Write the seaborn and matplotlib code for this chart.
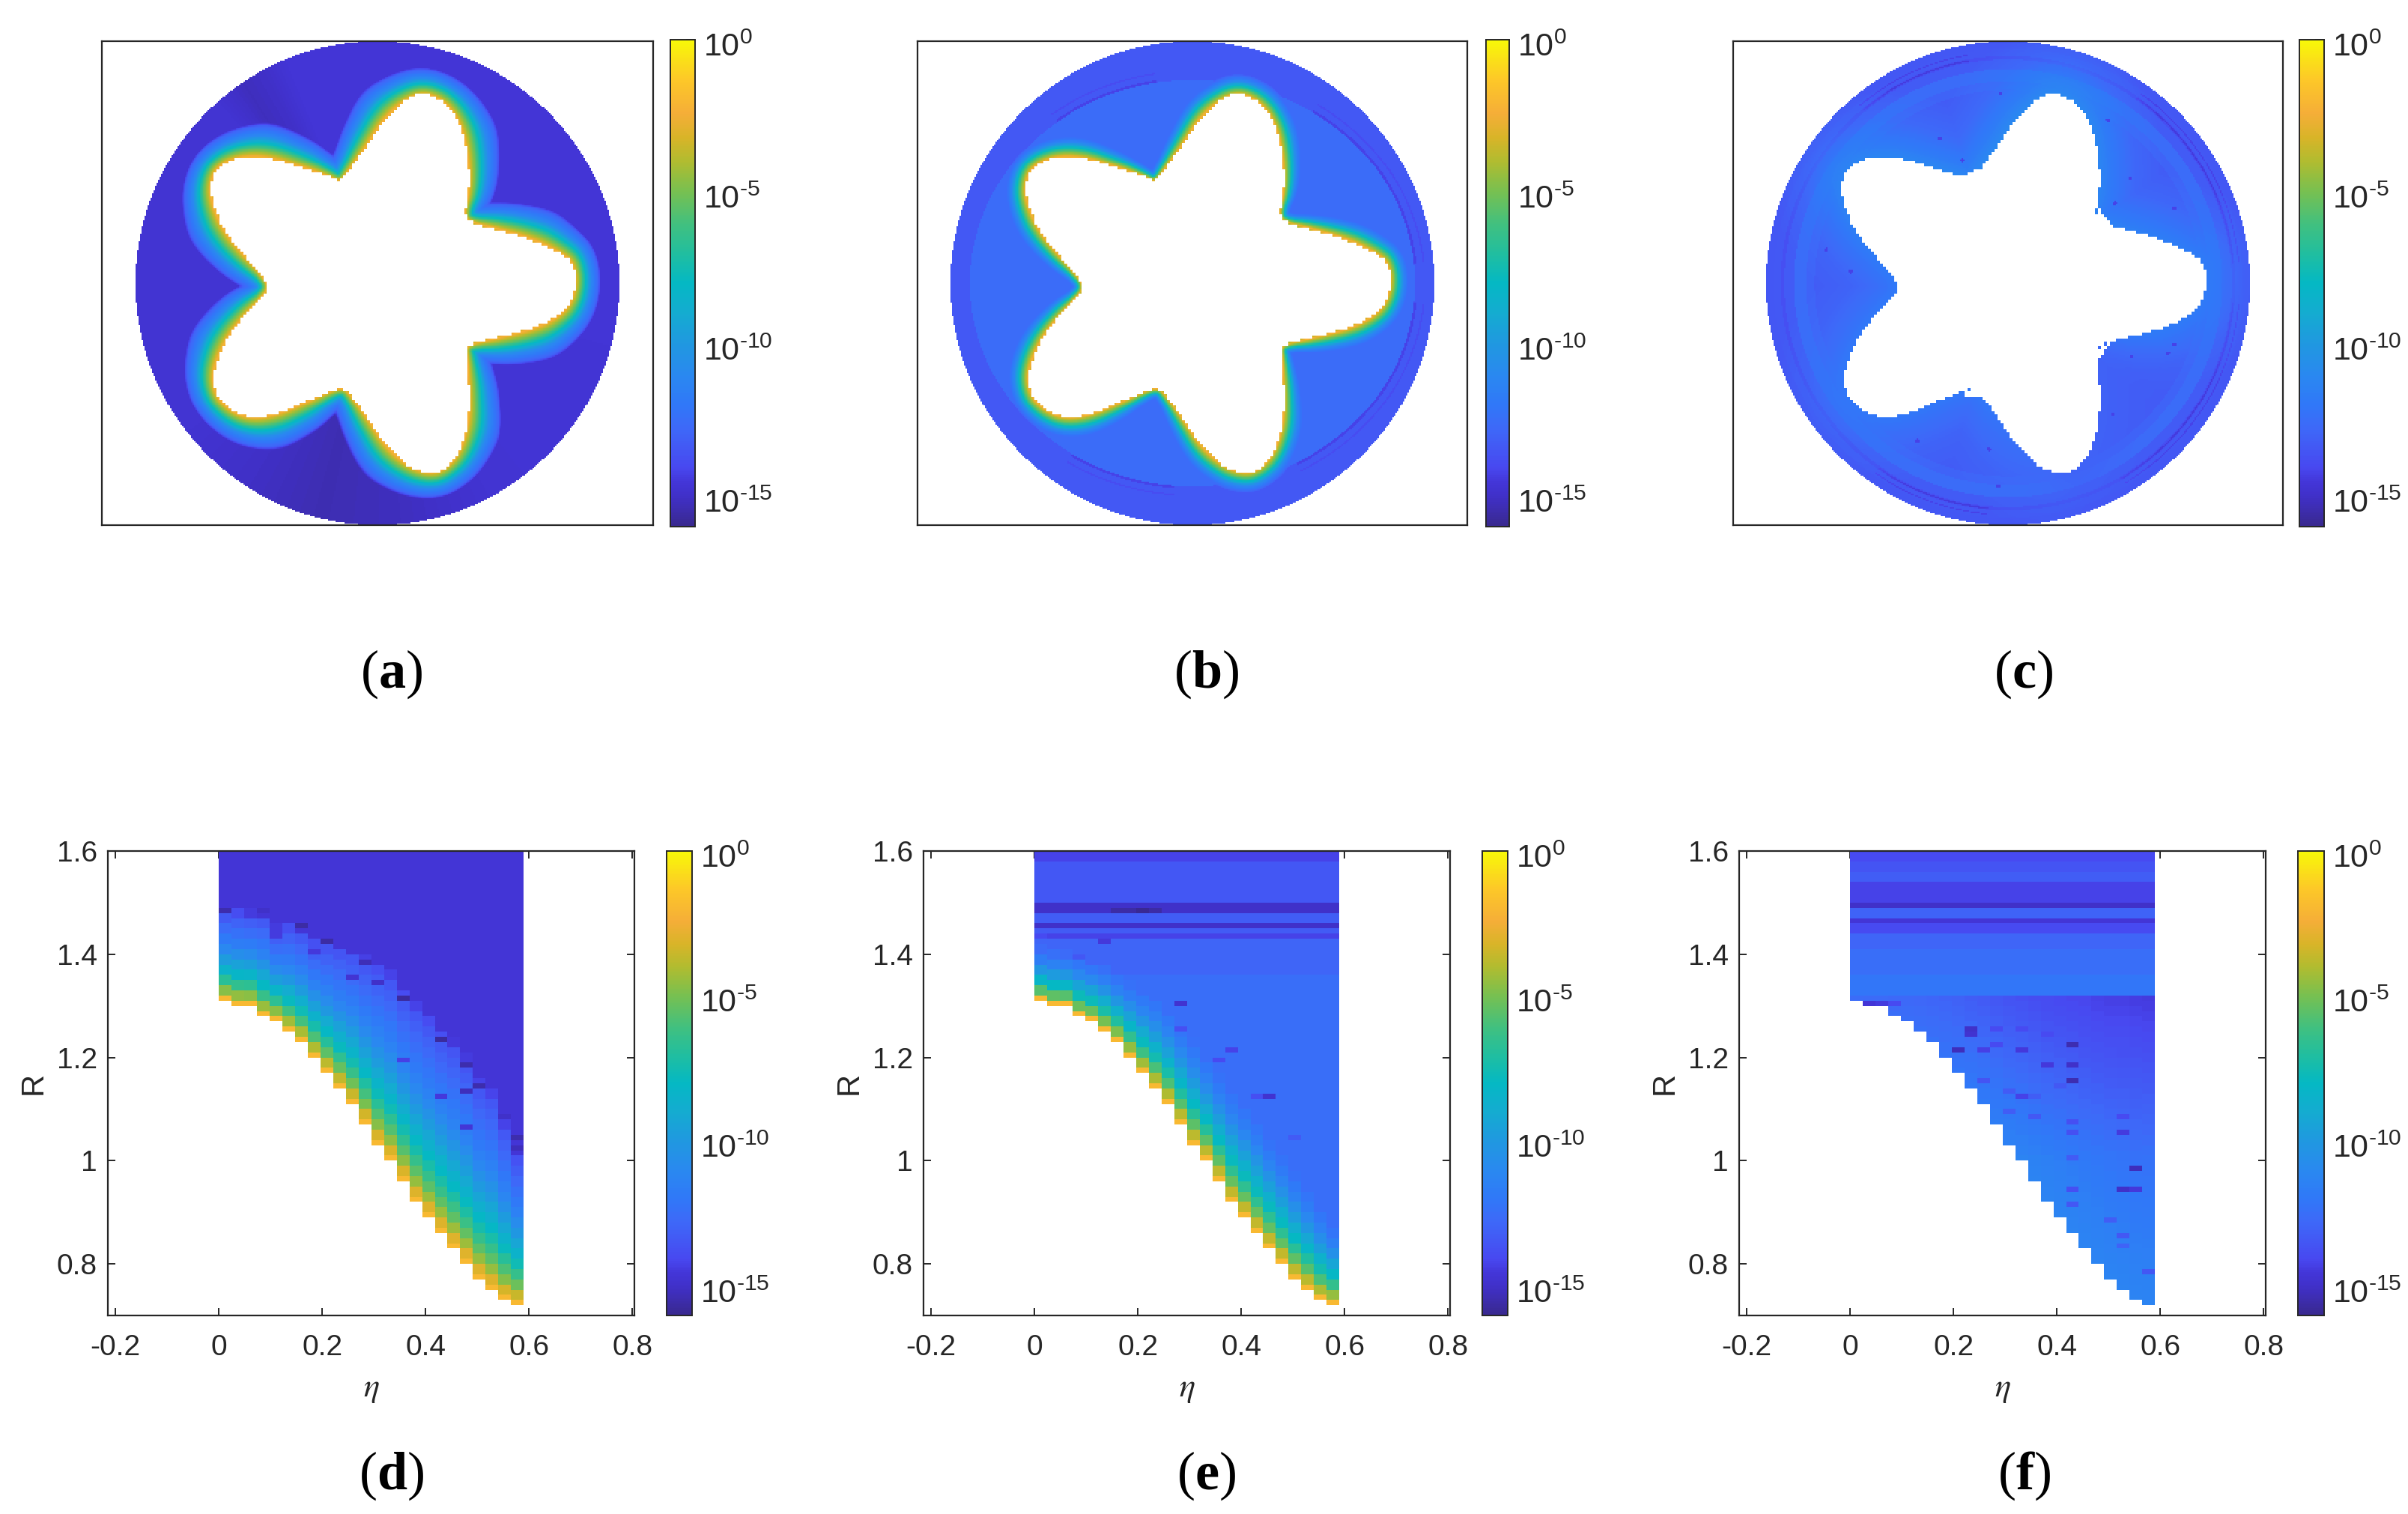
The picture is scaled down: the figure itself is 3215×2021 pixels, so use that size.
import numpy as np
import matplotlib
matplotlib.use("Agg")
import matplotlib.pyplot as plt
from matplotlib.colors import LinearSegmentedColormap
from matplotlib.path import Path
from matplotlib.ticker import FixedLocator
from matplotlib.transforms import ScaledTranslation
import seaborn as sns

# ---- colour scale (fraction of the log10 range, colour)
cmap_pos = [0, .06, .09, .12, .2, .25, .31, .375, .44, .5, .56, .62, .69, .75, .8, .85, .92, 1]
cmap_col = ["#39298f", "#4030c8", "#4336d8", "#4848f0", "#3e68f8", "#3078f8", "#2a88f0", "#2098e0",
            "#14acd0", "#04b8c4", "#20bea0", "#40c080", "#78c050", "#b0bc30", "#d8b428", "#f5ae38",
            "#fdc828", "#f8f808"]
parula = LinearSegmentedColormap.from_list("parula_like", list(zip(cmap_pos, cmap_col)))
LOG_MIN, LOG_MAX = -16, 0
cbar_major = [-15, -10, -5, 0]
cbar_labels = [r"$\mathregular{10^{\text{-15}}}$", r"$\mathregular{10^{\text{-10}}}$",
               r"$\mathregular{10^{\text{-5}}}$", r"$\mathregular{10^{0}}$"]
cbar_minor = list(range(-16, 1))

panel_labels_top = ["a", "b", "c"]
panel_labels_bot = ["d", "e", "f"]
eta_ticks = [-0.2, 0, 0.2, 0.4, 0.6, 0.8]
eta_ticklabels = ["-0.2", "0", "0.2", "0.4", "0.6", "0.8"]
R_ticks = [0.8, 1, 1.2, 1.4, 1.6]
R_ticklabels = ["0.8", "1", "1.2", "1.4", "1.6"]

# ---- star outline, unit disc coordinates
star_x = [.822, .808, .769, .650, .492, .370, .358, .377, .374, .344, .285, .206, .136, .038, -.042, -.121, -.154,
          -.200, -.318, -.457, -.575, -.664, -.694, -.684, -.634, -.555, -.466, -.451, -.466, -.536, -.615, -.664,
          -.684, -.664, -.595, -.516, -.417, -.318, -.219, -.144, -.111, -.042, .038, .136, .219, .275, .334, .374,
          .377, .370, .364, .393, .492, .630, .729, .798]
star_y = [0, .083, .117, .179, .224, .254, .296, .378, .516, .653, .743, .784, .770, .695, .571, .461, .417,
          .440, .481, .523, .523, .481, .406, .323, .213, .117, .021, -.014, -.048, -.117, -.213, -.309,
          -.392, -.475, -.536, -.560, -.543, -.502, -.454, -.429, -.461, -.557, -.681, -.763, -.788, -.770, -.708, -.585,
          -.447, -.309, -.268, -.248, -.227, -.193, -.151, -.089]
# blunted valley tips of panel (c): one triangle per valley
valley_x = [[-.154, -.112, -.205], [-.144, -.100, -.205], [.370, .360, .425], [.364, .360, .425]]
valley_y = [[.417, .475, .437], [-.429, -.470, -.460], [.254, .320, .240], [-.268, -.330, -.240]]

# boundary-layer width against radius of the nearest outline point
layer_r = [.45, .48, .55, .70, .78, .82]
layer_w_a = [.035, .07, .11, .135, .11, .095]
layer_w_b = [.025, .045, .07, .09, .085, .08]
# log10 error through the boundary layer
layer_t = [0, .06, .15, .27, .45, .68, .90, 1.0, 1.15]
layer_v = [-2, -3, -4.2, -5.5, -8, -11, -12.4, -13, -16]

# panel (a) background against polar angle
bg_angle_a = [0, 112, 118, 124, 132, 215, 240, 256, 275, 300, 360]
bg_value_a = [-14.6, -14.6, -15.0, -15.2, -14.7, -14.7, -15.1, -15.4, -15.2, -14.7, -14.6]

# panel (b) background: inner ellipse and outer ring
b_inner = -12.6
b_outer = -13.4
b_ellipse_x, b_ellipse_y = .92, .84
dark_arcs_lo = [100, 5, 235, 300]
dark_arcs_hi = [130, 55, 265, 355]

# panel (c) background by radius (ring edges, values)
c_ring_edges = [.80, .835, .885, .925, .94, .97]
c_ring_value = [-13.3, -13.0, -12.6, -13.3, -13.8, -13.4, -13.5]
# panel (c): value right at the outline against polar angle
c_near_angle = [0, 25, 70, 100, 150, 170, 200, 240, 260, 290, 320, 340, 360]
c_near_value = [-11.8, -11.5, -11.0, -11.0, -11.3, -11.8, -12.0, -12.0, -12.0, -13.0, -13.0, -11.8, -11.8]
c_near_d = [0, .05, .15, .28]
c_near_k = [1, .7, .25, 0]
c_speck_x = [-.03, -.281, -.189, .412, .505, .689, .44, .689, .662, .514, .431, -.373, -.078, -.752, -.651, -.041]
c_speck_y = [.784, .598, .509, .674, .433, .309, .33, -.254, -.289, -.303, -.543, -.653, -.688, .138, .048, -.839]

# ---- lower panels: 24 eta columns
eta_max = 0.59
R_floor = [1.312, 1.302, 1.302, 1.281, 1.272, 1.251, 1.232, 1.201, 1.171, 1.141, 1.112, 1.071,
           1.030, 1.001, .961, .921, .890, .861, .832, .801, .771, .750, .730, .721]
R_top_d = [1.48, 1.48, 1.475, 1.47, 1.445, 1.45, 1.44, 1.42, 1.415, 1.405, 1.397, 1.38,
           1.367, 1.35, 1.316, 1.29, 1.264, 1.238, 1.215, 1.186, 1.14, 1.12, 1.06, 1.0]
R_top_e = [1.430, 1.427, 1.421, 1.416, 1.408, 1.401, 1.390, 1.379, 1.367, 1.356, 1.334, 1.308,
           1.279, 1.247, 1.216, 1.186, 1.156, 1.127, 1.093, 1.060, 1.023, .986, .945, .904]
prof_t = [0, .05, .13, .30, .45, .62, .85, 1.0, 1.12]
prof_v = [-2, -3, -5, -7.8, -9.5, -11.3, -12.7, -13.6, -16]
bg_d = -14.6

# spots (column, R, log10) in panel (d)
spot_d_c = [0, 3, 6, 4, 8, 7, 11, 10, 14, 12, 17, 14, 19, 20, 19, 19, 23, 17, 22, 23]
spot_d_R = [1.486, 1.483, 1.456, 1.436, 1.426, 1.405, 1.386, 1.356, 1.316, 1.35, 1.236, 1.196, 1.186, 1.147, 1.138,
            1.066, 1.05, 1.127, 1.09, 1.03]
spot_d_v = [-15.5, -15, -15.6, -14.4, -15.6, -14.5, -15.3, -14.7, -15.7, -15, -15.7, -14.3, -15.5, -15.5, -15.2,
            -14.6, -15.5, -14.5, -15, -15.2]
# horizontal stripes in panels (e) and (f), from the top downwards
stripe_e_R = [1.582, 1.50, 1.48, 1.461, 1.451, 1.441, 1.43, 1.356]
stripe_e_v = [-14.2, -13.5, -15, -13.2, -15, -13.3, -14.2, -12.9, -12.5]
spot_e_c = [11, 11, 15, 14, 18, 17, 5, 3, 20, 6, 7, 8, 9]
spot_e_R = [1.308, 1.256, 1.216, 1.197, 1.127, 1.127, 1.427, 1.397, 1.049, 1.49, 1.49, 1.49, 1.49]
spot_e_v = [-14.8, -13.8, -14.2, -14, -14.8, -13.8, -14.5, -13.5, -13.3, -15.6, -15.6, -15.9, -15.6]
stripe_f_R = [1.582, 1.56, 1.541, 1.501, 1.491, 1.471, 1.459, 1.441, 1.408, 1.356, 1.319]
stripe_f_v = [-14, -13.6, -13.2, -14.2, -15.0, -13, -14.6, -14, -12.9, -12.5, -12.1]
f_d = [0, .1, .2, .35, .6]
f_d_v = [-11.3, -11.6, -12, -12.5, -13.1]
f_R = [.7, 1.0, 1.15, 1.31]
f_R_v = [0, 0, -.7, -1.3]
spot_f_c = [9, 9, 11, 13, 15, 17, 8, 10, 13, 11, 17, 17, 15, 10, 13, 12, 12, 14, 17, 21, 21, 17, 22, 21, 22, 17, 17, 17,
            21, 21, 20, 23, 1, 2, 3, 15, 16, 14]
spot_f_R = [1.249, 1.257, 1.257, 1.257, 1.249, 1.227, 1.216, 1.216, 1.216, 1.227, 1.186, 1.156, 1.186, 1.157, 1.127,
            1.137, 1.097, 1.086, 1.078, 1.086, 1.056, 1.056, .986, .945, .945, 1.005, .945, .915, .856, .837, .887, .785,
            1.31, 1.31, 1.31, 1.26, 1.15, 1.13]
spot_f_v = [-14.8, -15, -14, -14, -14, -15.4, -15.2, -14.3, -14.5, -14, -15, -15.4, -14.5, -13.6, -14.2, -13.3, -13.2,
            -13.4, -13.8, -14, -14.4, -13.7, -15.2, -15, -14.5, -13.3, -13.8, -13.5, -13.4, -13, -13.2, -13.5,
            -14.6, -14.4, -14, -13.6, -13.4, -13.2]

# ---- figure geometry in reference pixels
W, H = 3216, 2021
top_boxes = [(136, 872), (1225, 1959), (2314, 3048)]
top_cbars = [(895, 928), (1984, 2015), (3070, 3103)]
bot_boxes = [(144, 847), (1233, 1936), (2322, 3025)]
bot_cbars = [(890, 924), (1979, 2013), (3068, 3103)]
label_x_top = [523, 1611, 2702]
label_x_bot = [523, 1611, 2702]

sns.set_theme(style="white")
plt.rcParams["font.family"] = ["Liberation Sans", "DejaVu Sans"]
plt.rcParams["mathtext.fontset"] = "custom"
plt.rcParams["mathtext.rm"] = "Liberation Sans"
plt.rcParams["mathtext.bf"] = "Liberation Serif:bold"
plt.rcParams["mathtext.default"] = "regular"
INK = "#262626"


def chaikin(x, y, n=2):
    p = np.column_stack([x, y])
    for _ in range(n):
        q_ = np.roll(p, -1, axis=0)
        p = np.column_stack([.75 * p + .25 * q_, .25 * p + .75 * q_]).reshape(-1, 2)
    return p


def resample(p, step=.006):
    c = np.vstack([p, p[:1]])
    s = np.r_[0, np.cumsum(np.hypot(*np.diff(c, axis=0).T))]
    u = np.arange(0, s[-1], step)
    return np.column_stack([np.interp(u, s, c[:, 0]), np.interp(u, s, c[:, 1])])


def soften(a, sigma_cells=6):
    fx = np.fft.fftfreq(a.shape[1])
    fy = np.fft.fftfreq(a.shape[0])
    gain = np.exp(-2 * (np.pi * sigma_cells) ** 2 * (fx[None, :] ** 2 + fy[:, None] ** 2))
    return np.fft.ifft2(np.fft.fft2(a) * gain).real


def axes_px(x0, x1, y0, y1):
    return fig.add_axes([x0 / W, 1 - y1 / H, (x1 - x0) / W, (y1 - y0) / H])


def style_cbar(cax):
    cax.set_yticks(cbar_major)
    cax.set_yticklabels(cbar_labels)
    cax.yaxis.set_minor_locator(FixedLocator(cbar_minor))
    cax.tick_params(axis="y", which="major", direction="in", right=True, left=False, length=9, width=1.4,
                    color=INK, labelsize=31, labelcolor=INK, pad=8)
    cax.tick_params(axis="y", which="minor", direction="in", right=True, left=False, length=5, width=1.2, color=INK)
    for s in cax.spines.values():
        s.set_visible(True)
        s.set_color(INK)
        s.set_linewidth(1.2)
    shift = ScaledTranslation(0, -6 / 100, fig.dpi_scale_trans)
    for lab in cax.get_yticklabels():
        lab.set_transform(lab.get_transform() + shift)


def draw(ax, cax, mat, mask):
    sns.heatmap(mat, mask=mask, ax=ax, cbar_ax=cax, cmap=parula, vmin=LOG_MIN, vmax=LOG_MAX,
                xticklabels=False, yticklabels=False, linewidths=0, rasterized=True)
    cb = ax.collections[0].colorbar
    cb.outline.set_visible(False)
    style_cbar(cax)
    for s in ax.spines.values():
        s.set_visible(True)
        s.set_color(INK)
        s.set_linewidth(1.6)


fig = plt.figure(figsize=(W / 100, H / 100), dpi=100, facecolor="white")

# ---- upper row fields
N = 324
centres = -1 + (np.arange(N) + .5) * 2 / N
X, Y = np.meshgrid(centres, centres[::-1])
rad = np.hypot(X, Y)
ang = np.degrees(np.arctan2(Y, X)) % 360
outline = chaikin(star_x, star_y)
dense = resample(outline)
dense_r = np.hypot(dense[:, 0], dense[:, 1])
dist = np.empty_like(X)
near_r = np.empty_like(X)
for i in range(N):
    d2 = (X[i, None].T - dense[:, 0]) ** 2 + (Y[i, None].T - dense[:, 1]) ** 2
    j = d2.argmin(axis=1)
    dist[i] = np.sqrt(d2[np.arange(N), j])
    near_r[i] = dense_r[j]

q = .0125
pts = np.column_stack([(np.round(X / q) * q).ravel(), (np.round(Y / q) * q).ravel()])
inside = Path(outline).contains_points(pts).reshape(X.shape)
inside_c = inside.copy()
for vx, vy in zip(valley_x, valley_y):
    inside_c |= Path(np.column_stack([vx, vy])).contains_points(pts).reshape(X.shape)
outside_disc = rad > 1

w_a = soften(np.interp(near_r, layer_r, layer_w_a))
w_b = soften(np.interp(near_r, layer_r, layer_w_b))
field_a = np.maximum(np.interp(dist / w_a, layer_t, layer_v), np.interp(ang, bg_angle_a, bg_value_a))

rho = np.hypot(X / b_ellipse_x, Y / b_ellipse_y)
bg_b = np.where(rho < 1, b_inner, b_outer)
in_arc = np.zeros_like(X, dtype=bool)
for lo, hi in zip(dark_arcs_lo, dark_arcs_hi):
    in_arc |= (ang >= lo) & (ang <= hi)
bg_b = np.where((rho >= 1.0) & (rho < 1.012) & in_arc, -14.2, bg_b)
bg_b = np.where((rho >= 1.04) & (rho < 1.048) & in_arc, -13.9, bg_b)
field_b = np.maximum(np.interp(dist / w_b, layer_t, layer_v), bg_b)

base_c = np.array(c_ring_value)[np.searchsorted(c_ring_edges, rad)]
base_c = np.where((rad > .93) & (rad < .937) & in_arc, -14.4, base_c)
base_c = np.where((rad > .955) & (rad < .96) & in_arc, -14.2, base_c)
k_c = np.interp(dist, c_near_d, c_near_k)
field_c = base_c + (np.interp(ang, c_near_angle, c_near_value) - base_c) * k_c
for sx, sy in zip(c_speck_x, c_speck_y):
    field_c[(X - sx) ** 2 + (Y - sy) ** 2 < .008 ** 2] = -14.2

top_fields = [field_a, field_b, field_c]
top_masks = [inside | outside_disc, inside | outside_disc, inside_c | outside_disc]
for box, cb_box, mat, mask, lab, lx in zip(top_boxes, top_cbars, top_fields, top_masks, panel_labels_top, label_x_top):
    ax = axes_px(box[0], box[1], 55, 701)
    cax = axes_px(cb_box[0], cb_box[1], 53, 703)
    draw(ax, cax, mat, mask)
    half = (box[1] - box[0]) / 2 / 323
    ax.set_xlim((1 - half) * N / 2, (1 + half) * N / 2)
    ax.set_ylim(N, 0)
    ax.set_xticks([])
    ax.set_yticks([])
    fig.text(lx / W, 1 - 900 / H, rf"$(\mathbf{{{lab}}})$", fontsize=52, math_fontfamily="custom",
             ha="center", va="center", color="black", family="Liberation Serif")

# ---- lower row fields
n_col = len(R_floor)
n_row = 90
col_w = eta_max / n_col
R_c = 1.6 - (np.arange(n_row) + .5) * .01
floor = np.array(R_floor)
RR, FF = np.meshgrid(R_c, floor, indexing="ij")
mask_bot = RR < FF
RQ = FF + np.round((RR - FF) / .02) * .02


def put_spots(mat, cols, rs, vals):
    rows = ((1.6 - np.asarray(rs)) / .01).astype(int)
    mat[rows, cols] = vals


T_d = (RQ - FF) / (np.array(R_top_d) - FF)
field_d = np.maximum(np.interp(T_d, prof_t, prof_v), bg_d)
put_spots(field_d, spot_d_c, spot_d_R, spot_d_v)

stripe_e = np.array(stripe_e_v)[np.searchsorted(-np.array(stripe_e_R), -RR)]
T_e = (RQ - FF) / (np.array(R_top_e) - FF)
field_e = np.maximum(np.interp(T_e, prof_t, prof_v), stripe_e)
put_spots(field_e, spot_e_c, spot_e_R, spot_e_v)

stripe_f_full = stripe_f_v + [np.nan]
stripe_f = np.array(stripe_f_full)[np.searchsorted(-np.array(stripe_f_R), -RR)]
lower_f = np.interp(RQ - FF, f_d, f_d_v) + np.interp(RQ, f_R, f_R_v)
field_f = np.where(np.isnan(stripe_f), lower_f, stripe_f)
put_spots(field_f, spot_f_c, spot_f_R, spot_f_v)

bot_fields = [field_d, field_e, field_f]
for box, cb_box, mat, lab, lx in zip(bot_boxes, bot_cbars, bot_fields, panel_labels_bot, label_x_bot):
    ax = axes_px(box[0], box[1], 1136, 1756)
    cax = axes_px(cb_box[0], cb_box[1], 1136, 1756)
    draw(ax, cax, mat, mask_bot)
    ax.set_xlim(-.2145 / col_w, .804 / col_w)
    ax.set_ylim((1.6 - .7) / .01, 0)
    ax.set_xticks([e / col_w for e in eta_ticks])
    ax.set_xticklabels(eta_ticklabels)
    ax.set_yticks([(1.6 - r) / .01 for r in R_ticks])
    ax.set_yticklabels(R_ticklabels, rotation=0)
    ax.tick_params(axis="x", which="major", direction="in", bottom=True, top=True, length=7, width=1.4, color=INK,
                   labelsize=28, labelcolor=INK, pad=18)
    ax.tick_params(axis="y", which="major", direction="in", left=True, right=True, length=7, width=1.4, color=INK,
                   labelsize=28, labelcolor=INK, pad=10)
    ax.set_xlabel(r"$\mathit{\eta}$", fontsize=32, math_fontfamily="stix", color=INK, labelpad=12)
    ax.set_ylabel("R", fontsize=30, color=INK, labelpad=8)
    fig.text(lx / W, 1 - 1970 / H, rf"$(\mathbf{{{lab}}})$", fontsize=52, math_fontfamily="custom",
             ha="center", va="center", color="black", family="Liberation Serif")

fig.savefig("out.png", dpi=100, facecolor="white")
